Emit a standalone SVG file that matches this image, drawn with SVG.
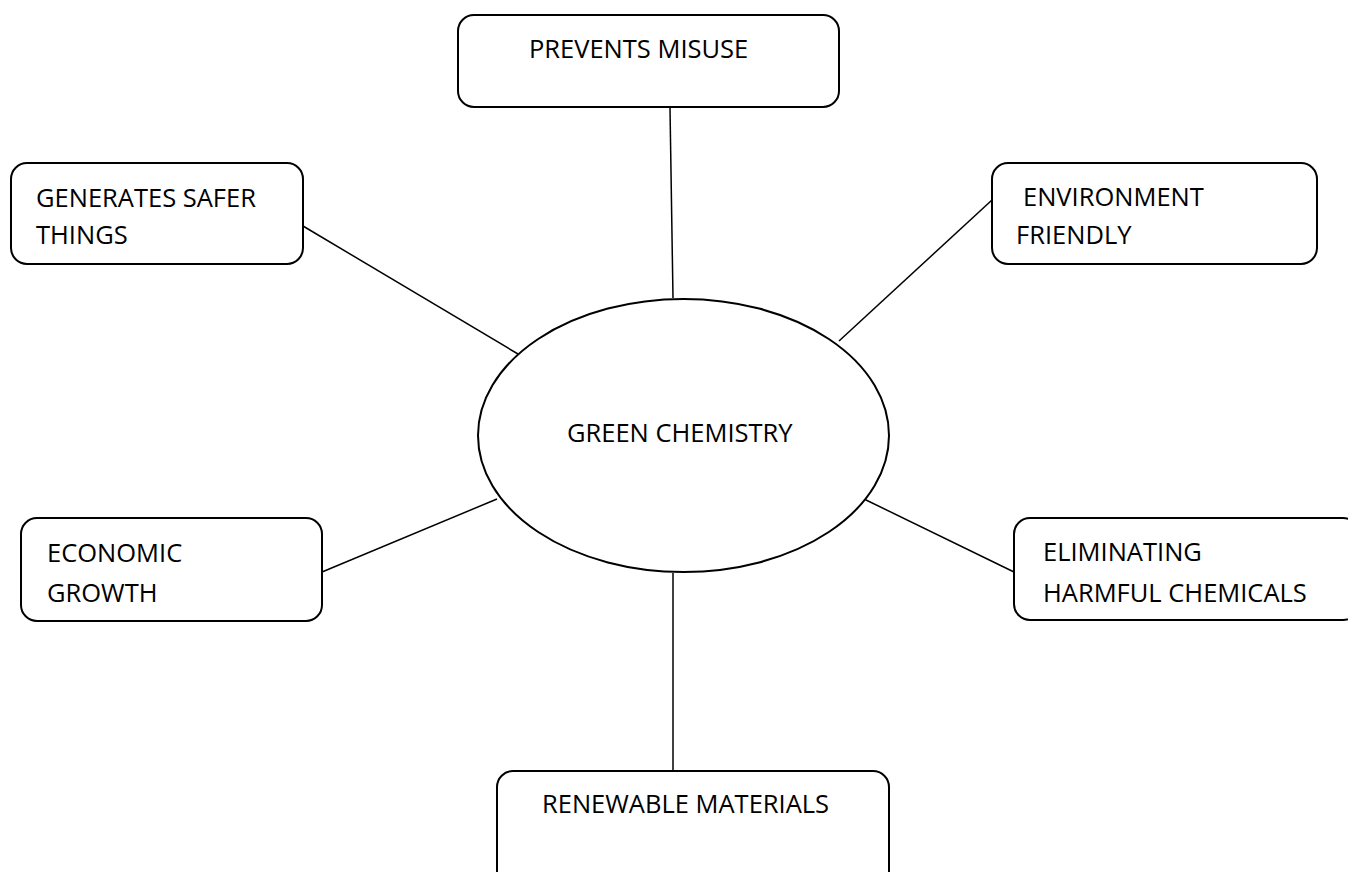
<svg xmlns="http://www.w3.org/2000/svg" width="1348" height="872" viewBox="0 0 1348 872">
<style>
.box{fill:#fff;stroke:#000;stroke-width:2}
.t{font-family:"Open Sans","Noto Sans",sans-serif;font-size:25.5px;fill:#000}
.c line{stroke:#000;stroke-width:1.5}
</style>
<rect width="1348" height="872" fill="#fff"/>
<g class="c" id="connectors">
<line x1="670" y1="108" x2="673" y2="298"/>
<line x1="303" y1="226" x2="518" y2="354"/>
<line x1="992" y1="200" x2="839" y2="341"/>
<line x1="322" y1="572" x2="497" y2="499"/>
<line x1="1014" y1="572" x2="864" y2="499"/>
<line x1="673" y1="573" x2="673" y2="771"/>
</g>
<g id="center">
<ellipse class="box" cx="683.5" cy="435.5" rx="205.5" ry="136.5"/>
<text class="t" x="567" y="442">GREEN CHEMISTRY</text>
</g>
<g id="prevents">
<rect class="box" x="458" y="15" width="381" height="92" rx="16"/>
<text class="t" x="529" y="58">PREVENTS MISUSE</text>
</g>
<g id="generates">
<rect class="box" x="11" y="163" width="292" height="101" rx="16"/>
<text class="t" x="36" y="207">GENERATES SAFER</text>
<text class="t" x="36" y="244">THINGS</text>
</g>
<g id="environment">
<rect class="box" x="992" y="163" width="325" height="101" rx="16"/>
<text class="t" x="1023" y="206">ENVIRONMENT</text>
<text class="t" x="1016" y="244">FRIENDLY</text>
</g>
<g id="economic">
<rect class="box" x="21" y="518" width="301" height="103" rx="16"/>
<text class="t" x="47" y="562">ECONOMIC</text>
<text class="t" x="47" y="602">GROWTH</text>
</g>
<g id="eliminating">
<rect class="box" x="1014" y="518" width="345" height="102" rx="16"/>
<text class="t" x="1043" y="561">ELIMINATING</text>
<text class="t" x="1043" y="602">HARMFUL CHEMICALS</text>
</g>
<g id="renewable">
<rect class="box" x="497" y="771" width="392" height="120" rx="16"/>
<text class="t" x="542" y="813">RENEWABLE MATERIALS</text>
</g>
</svg>
